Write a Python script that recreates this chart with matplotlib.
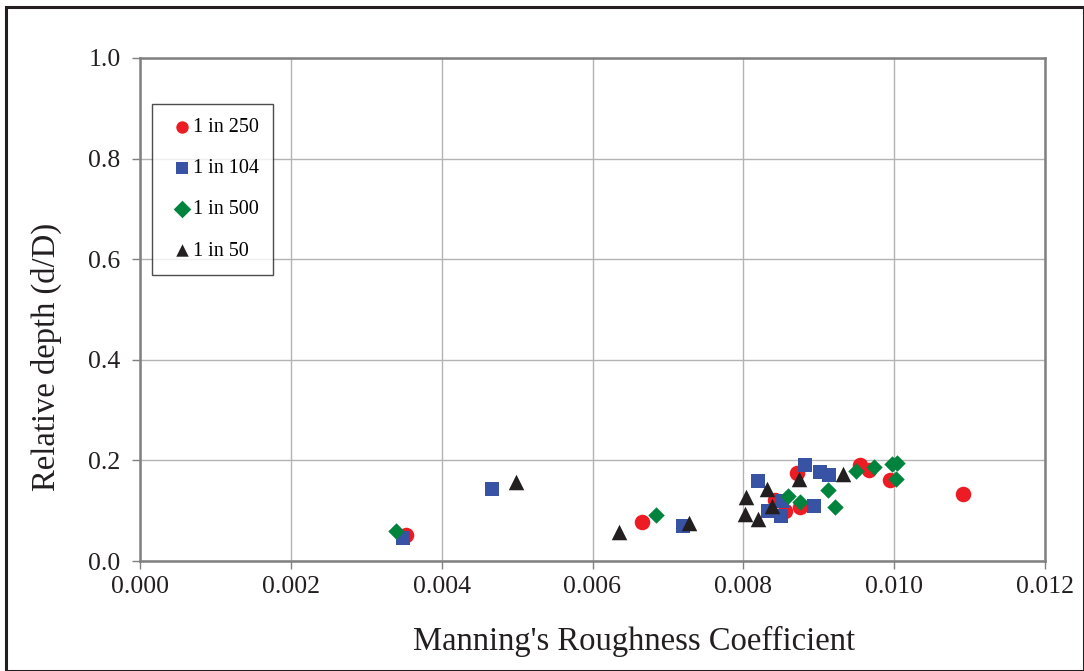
import matplotlib
matplotlib.use("Agg")
import matplotlib.pyplot as plt
from matplotlib.patches import Rectangle

plt.rcParams['font.family'] = ['Liberation Serif', 'DejaVu Serif']

# Manning's n vs relative depth, grouped by pipe slope
n_250 = [0.00871, 0.00955, 0.00967, 0.00995, 0.01091, 0.00842, 0.00855, 0.00875, 0.00665, 0.00353]
d_250 = [0.174, 0.191, 0.181, 0.161, 0.133, 0.121, 0.099, 0.108, 0.078, 0.052]

n_104 = [0.00882, 0.00901, 0.00914, 0.00820, 0.00851, 0.00833, 0.00850, 0.00894, 0.00720, 0.00467, 0.00349]
d_104 = [0.191, 0.177, 0.171, 0.159, 0.119, 0.099, 0.089, 0.109, 0.069, 0.143, 0.046]

n_500 = [0.00859, 0.00875, 0.00912, 0.00922, 0.00950, 0.00973, 0.00997, 0.01004, 0.01002, 0.00684, 0.00339]
d_500 = [0.129, 0.117, 0.141, 0.108, 0.179, 0.187, 0.193, 0.195, 0.163, 0.091, 0.059]

n_50 = [0.00804, 0.00831, 0.00874, 0.00932, 0.00838, 0.00802, 0.00820, 0.00635, 0.00728, 0.00499]
d_50 = [0.127, 0.143, 0.163, 0.173, 0.109, 0.093, 0.083, 0.058, 0.075, 0.157]

fig = plt.figure(figsize=(10.84, 6.71), dpi=100)
ax = fig.add_axes([140/1084, 110/671, 905/1084, 503/671])

# outer frame round the whole figure
fig.patches.append(Rectangle((6/1084, 0), 1 - 6/1084, 1 - 7/671, transform=fig.transFigure,
                             fill=False, edgecolor='#231f20', linewidth=2.2))

ax.scatter(n_250, d_250, marker='o', s=125, color='#ed1c24', label='1 in 250', zorder=3, linewidths=0)
ax.scatter(n_104, d_104, marker='s', s=115, color='#3953a4', label='1 in 104', zorder=3, linewidths=0)
ax.scatter(n_500, d_500, marker='D', s=70, color='#00843d', label='1 in 500', zorder=3, linewidths=0)
ax.scatter(n_50, d_50, marker='^', s=125, color='#231f20', label='1 in 50', zorder=3, linewidths=0)

ax.set_xlim(0, 0.012)
ax.set_ylim(0, 1.0)
ax.set_xticks([0.000, 0.002, 0.004, 0.006, 0.008, 0.010, 0.012])
ax.set_xticklabels(['0.000', '0.002', '0.004', '0.006', '0.008', '0.010', '0.012'])
ax.set_yticks([0.0, 0.2, 0.4, 0.6, 0.8, 1.0])
ax.set_yticklabels(['0.0', '0.2', '0.4', '0.6', '0.8', '1.0'])

ax.grid(True, color='#b3b3b3', linewidth=1.0)
ax.set_axisbelow(True)
for sp in ax.spines.values():
    sp.set_color('#808080')
    sp.set_linewidth(1.8)
ax.tick_params(axis='both', colors='#808080', labelcolor='#231f20', labelsize=18.5, length=6, width=1)
ax.tick_params(axis='y', pad=8)
ax.tick_params(axis='x', pad=5)

# axis titles sit a little off-centre, placed in figure coordinates
fig.text(634/1084, 1 - 641/671, "Manning's Roughness Coefficient", fontsize=23.5,
         color='#231f20', ha='center', va='center')
fig.text(46/1084, 1 - 357/671, "Relative depth (d/D)", fontsize=23.5, rotation=90,
         color='#231f20', ha='center', va='center')

leg = ax.legend(loc='upper left', bbox_to_anchor=(0.013, 0.909), fontsize=14.5, frameon=True,
                fancybox=False, edgecolor='#231f20', handletextpad=-0.25, handlelength=1.6,
                labelspacing=1.1, borderpad=0.7, borderaxespad=0)
leg.get_frame().set_linewidth(1.0)
for h in leg.legend_handles:
    h.set_sizes([80])

fig.savefig('out.png', dpi=100)
